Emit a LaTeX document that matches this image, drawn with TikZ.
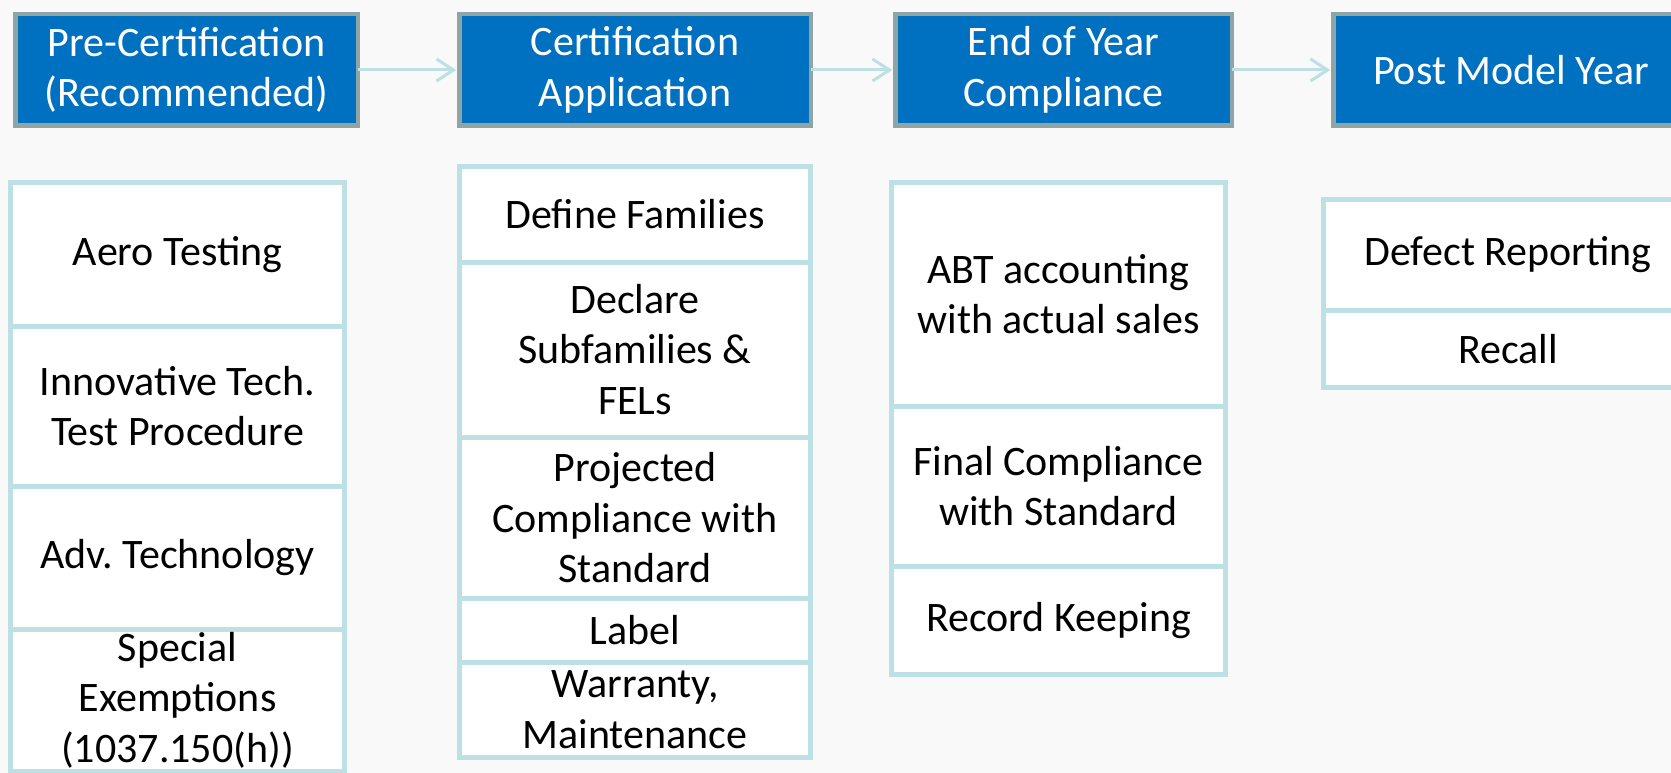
\documentclass[tikz,border=0pt]{standalone}
\usepackage{fontspec}
\setmainfont{Carlito}
\usepackage{tikz}
\usetikzlibrary{positioning,arrows.meta}
\definecolor{hdrblue}{HTML}{0070C0}
\definecolor{hdrgray}{HTML}{8FA4A4}
\definecolor{taskline}{HTML}{BCE0E4}
\definecolor{pagebg}{HTML}{F9F9F9}
\newcommand{\boxfont}{\fontsize{42}{50.5}\selectfont\frenchspacing}

\begin{document}
\begin{tikzpicture}[x=1pt, y=-1pt,
    phase/.style={draw=hdrgray, line width=4.5pt, fill=hdrblue, text=white, rectangle, align=center, font=\boxfont, inner sep=0pt, outer sep=0pt, minimum height=111.5pt},
    task/.style={draw=taskline, line width=5pt, fill=white, rectangle, align=center, font=\boxfont, inner sep=0pt, outer sep=0pt, anchor=north, minimum width=#1},
    task/.default=334pt,
    flow/.style={->, draw=taskline, line width=3pt, shorten >=3pt},
    >={Straight Barb[length=17pt, width=22pt]}]
    \useasboundingbox (0,0) rectangle (1671,773);
    \fill [pagebg] (0,0) rectangle (1671,773);

    \node [phase, minimum width=342.5pt] (pre) at (186.5,70) {Pre-Certification\\(Recommended)};
    \node [phase, minimum width=351.5pt] (cert) at (635,70) {Certification\\Application};
    \node [phase, minimum width=336.5pt] (eoy) at (1063.5,70) {End of Year\\Compliance};
    \node [phase, minimum width=355.5pt] (post) at (1511,70) {Post Model Year};

    \draw [flow] (pre) -- (cert);
    \draw [flow] (cert) -- (eoy);
    \draw [flow] (eoy) -- (post);

    % pre-certification
    \node [task, minimum height=143.5pt] (aero) at (177.5,182.5) {Aero Testing};
    \node [task, minimum height=160pt, below=0pt of aero] (innov) {Innovative Tech.\\Test Procedure};
    \node [task, minimum height=143pt, below=0pt of innov] (adv) {Adv. Technology};
    \node [task, minimum height=142pt, below=0pt of adv] (exempt) {Special\\Exemptions\\(1037.150(h))};

    % certification
    \node [task=351pt, minimum height=95.5pt] (fam) at (635,166.5) {Define Families};
    \node [task=351pt, minimum height=175pt, below=0pt of fam] (subfam) {Declare\\Subfamilies \&\\FELs};
    \node [task=351pt, minimum height=161.5pt, below=0pt of subfam] (proj) {Projected\\Compliance with\\Standard};
    \node [task=351pt, minimum height=63.5pt, below=0pt of proj] (label) {Label};
    \node [task=351pt, minimum height=95.5pt, below=0pt of label] (warr) {Warranty,\\Maintenance};

    % end of year
    \node [task, minimum height=223.5pt] (abt) at (1058.5,182.5) {ABT accounting\\with actual sales};
    \node [task, minimum height=160pt, below=0pt of abt] (final) {Final Compliance\\with Standard};
    \node [task, minimum height=108.5pt, below=0pt of final] (rec) {Record Keeping};

    % post model year
    \node [task=369pt, minimum height=110.5pt] (defect) at (1508,199.5) {Defect Reporting};
    \node [task=369pt, minimum height=77.5pt, below=0pt of defect] (recall) {Recall};

\end{tikzpicture}
\end{document}
